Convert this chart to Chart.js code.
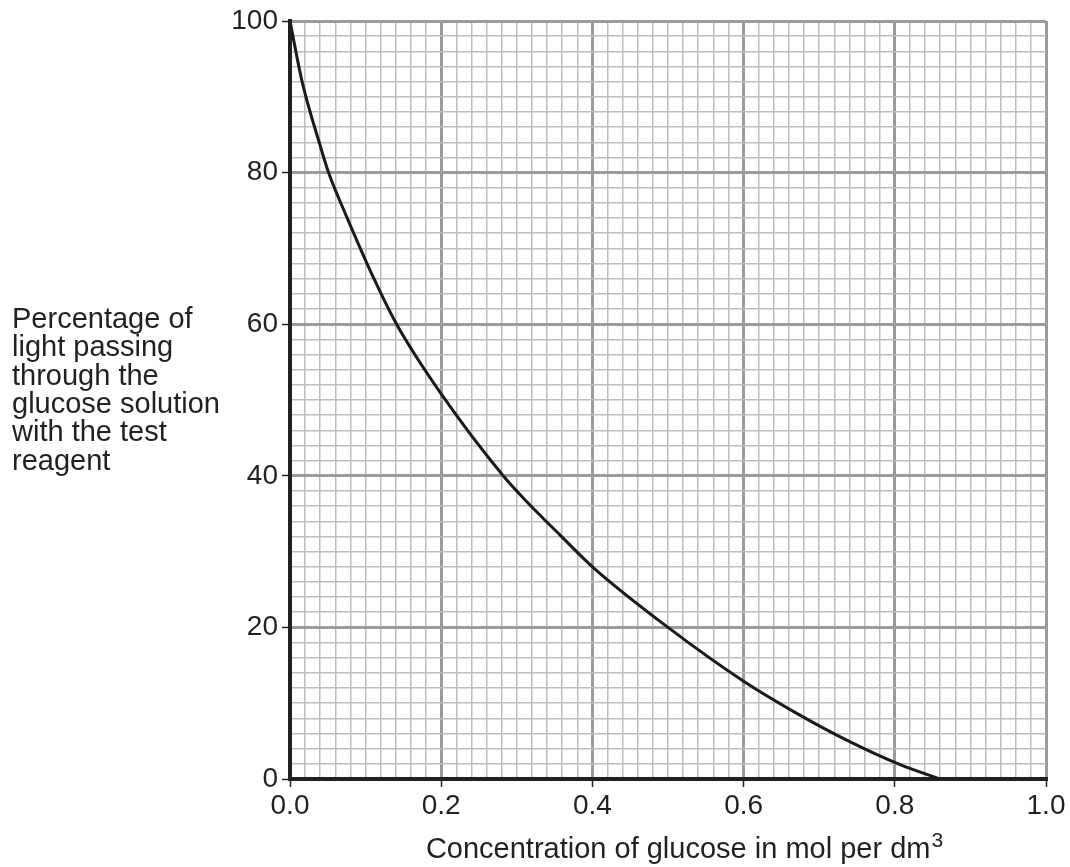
<!DOCTYPE html>
<html>
<head>
<meta charset="utf-8">
<script src="https://cdn.jsdelivr.net/npm/chart.js@4/dist/chart.umd.min.js"></script>
<style>
  html, body { margin: 0; padding: 0; background: #fff; }
  #wrap { width: 1070px; height: 867px; position: relative; }
</style>
</head>
<body>
<div id="wrap"><canvas id="chart" width="1070" height="867"></canvas></div>
<script>
// Data
const concentration = [0, 0.016, 0.041, 0.051, 0.074, 0.112, 0.141, 0.2, 0.282, 0.311, 0.357, 0.4, 0.5, 0.6, 0.675, 0.741, 0.807, 0.86];
const lightPercent = [100, 92, 83.2, 80, 74.4, 65.8, 60, 50.8, 40, 36.8, 32.2, 28, 20, 12.9, 8.4, 4.9, 1.9, 0];
const xTickLabels = ["0.0", "0.2", "0.4", "0.6", "0.8", "1.0"];
const yTitleLines = ["Percentage of", "light passing", "through the", "glucose solution", "with the test", "reagent"];
const xTitle = "Concentration of glucose in mol per dm";
const xTitleSup = "3";

const FONT = "'Liberation Sans', Arial, sans-serif";
const TEXT = "#231f20";

function isMajorX(v) { return Math.round(v * 100) % 20 === 0; }
function isMajorY(v) { return Math.round(v) % 20 === 0; }

// axis titles drawn as plain text lines (y title sits horizontally, x title has a superscript)
const titlesPlugin = {
  id: "titles",
  afterDraw(chart) {
    const c = chart.ctx;
    c.save();
    c.fillStyle = TEXT;
    c.font = "29px " + FONT;
    c.textBaseline = "middle";
    c.textAlign = "left";
    yTitleLines.forEach((line, i) => {
      c.fillText(line, 12, 320 + i * 28.3);
    });

    c.textBaseline = "alphabetic";
    const w = c.measureText(xTitle).width;
    c.font = "21px " + FONT;
    const ws = c.measureText(xTitleSup).width;
    const x0 = 684 - (w + ws) / 2;
    c.font = "29px " + FONT;
    c.fillText(xTitle, x0, 858);
    c.font = "21px " + FONT;
    c.fillText(xTitleSup, x0 + w + 1, 847);
    c.restore();
  }
};

new Chart(document.getElementById("chart"), {
  type: "scatter",
  data: {
    datasets: [{
      data: concentration.map((x, i) => ({ x: x, y: lightPercent[i] })),
      showLine: true,
      borderColor: "#1a1a1a",
      borderWidth: 3,
      pointRadius: 0,
      cubicInterpolationMode: "monotone",
      fill: false
    }]
  },
  options: {
    responsive: false,
    animation: false,
    layout: { padding: { top: 21, right: 24, left: 0, bottom: 0 } },
    plugins: { legend: { display: false }, tooltip: { enabled: false } },
    scales: {
      x: {
        type: "linear",
        min: 0,
        max: 1,
        afterFit(scale) { scale.height = 88; },
        border: { display: true, color: "#231f20", width: 4 },
        grid: {
          color: ctx => isMajorX(ctx.tick.value) ? "#9b9b9b" : "#bdbdbd",
          lineWidth: ctx => isMajorX(ctx.tick.value) ? 3 : 1.5,
          tickColor: ctx => isMajorX(ctx.tick.value) ? "#231f20" : "rgba(0,0,0,0)",
          tickWidth: 1.5,
          tickLength: 8
        },
        ticks: {
          stepSize: 0.02,
          maxTicksLimit: 100,
          autoSkip: false,
          maxRotation: 0,
          padding: 2,
          color: TEXT,
          font: { family: FONT, size: 28 },
          callback: v => isMajorX(v) ? xTickLabels[Math.round(v * 5)] : ""
        }
      },
      y: {
        min: 0,
        max: 100,
        afterFit(scale) { scale.width = 290; },
        border: { display: true, color: "#231f20", width: 4 },
        grid: {
          color: ctx => isMajorY(ctx.tick.value) ? "#9b9b9b" : "#bdbdbd",
          lineWidth: ctx => isMajorY(ctx.tick.value) ? 3 : 1.5,
          tickColor: ctx => isMajorY(ctx.tick.value) ? "#231f20" : "rgba(0,0,0,0)",
          tickWidth: 1.5,
          tickLength: 8
        },
        ticks: {
          stepSize: 2,
          maxTicksLimit: 100,
          autoSkip: false,
          padding: 4,
          color: TEXT,
          font: { family: FONT, size: 28 },
          callback: v => isMajorY(v) ? String(Math.round(v)) : ""
        }
      }
    }
  },
  plugins: [titlesPlugin]
});
</script>
</body>
</html>
